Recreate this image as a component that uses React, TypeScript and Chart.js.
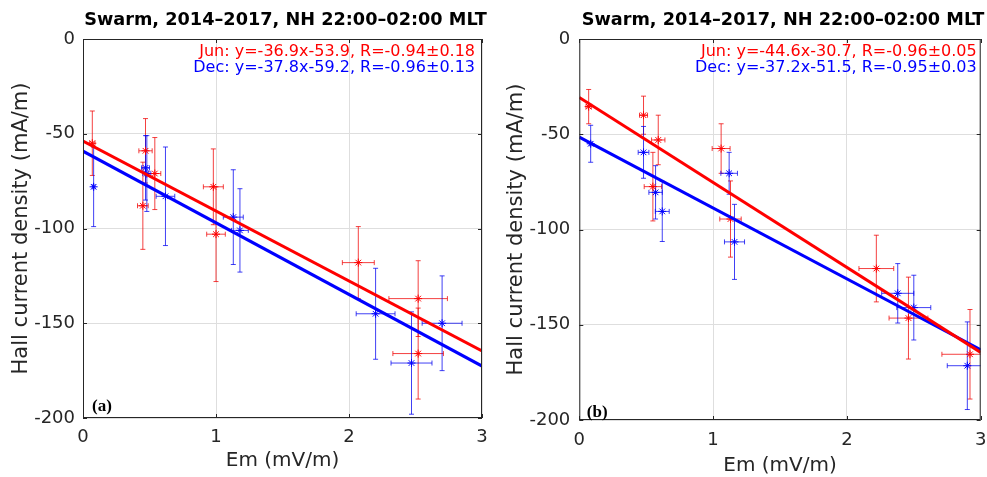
import React, { useEffect, useRef } from "react";
import { Chart, registerables } from "chart.js";

Chart.register(...registerables);

const FONT = "'DejaVu Sans', 'Noto Sans', sans-serif";
const TITLE = "Swarm, 2014–2017, NH 22:00–02:00 MLT";
const X_LABEL = "Em (mV/m)";
const Y_LABEL = "Hall current density (mA/m)";
const X_TICKS = [0, 1, 2, 3];
const Y_TICKS = [0, -50, -100, -150, -200];

// ---------- Panel (a) ----------
const junAx = [0.07, 0.47, 0.45, 0.54, 0.98, 1.0, 2.07, 2.52, 2.52];
const junAy = [-55, -59, -88, -71, -78, -103, -118, -137, -166];
const junAxErr = [0.02, 0.05, 0.04, 0.045, 0.075, 0.07, 0.12, 0.22, 0.19];
const junAyErr = [17, 17, 23, 19, 20, 25, 19, 20, 24];

const decAx = [0.08, 0.47, 0.48, 0.62, 1.13, 1.18, 2.2, 2.7, 2.47];
const decAy = [-78, -68, -71, -83, -94, -101, -145, -150, -171];
const decAxErr = [0.01, 0.03, 0.03, 0.07, 0.075, 0.063, 0.146, 0.15, 0.154];
const decAyErr = [21, 17, 20, 26, 25, 22, 24, 25, 27];

// ---------- Panel (b) ----------
const junBx = [0.07, 0.48, 0.59, 1.06, 0.55, 1.13, 2.22, 2.46, 2.92];
const junBy = [-35.5, -40, -53, -57.5, -77.5, -94.5, -120.5, -146.5, -165.5];
const junBxErr = [0.02, 0.03, 0.05, 0.067, 0.065, 0.08, 0.13, 0.145, 0.21];
const junByErr = [9, 10, 13, 13, 18, 20, 17.5, 21.5, 23.5];

const decBx = [0.085, 0.48, 0.57, 0.62, 1.12, 1.16, 2.38, 2.5, 2.9];
const decBy = [-55, -59.5, -80.5, -90.5, -70.5, -106.5, -133.5, -141, -171.5];
const decBxErr = [0.01, 0.04, 0.05, 0.052, 0.062, 0.075, 0.12, 0.127, 0.15];
const decByErr = [9.7, 13.6, 14, 15.8, 11, 19.7, 15.6, 17, 23];

// ---------- Fit lines (endpoints at x = 0 and x = 3) ----------
const fitX = [0, 3];
const junAFit = [-53.9, -164.6];
const decAFit = [-59.2, -172.6];
const junBFit = [-30.7, -164.5];
const decBFit = [-51.5, -163.1];

const junAText = "Jun: y=-36.9x-53.9, R=-0.94±0.18";
const decAText = "Dec: y=-37.8x-59.2, R=-0.96±0.13";
const junBText = "Jun: y=-44.6x-30.7, R=-0.96±0.05";
const decBText = "Dec: y=-37.2x-51.5, R=-0.95±0.03";

const RED = "#ff0000";
const BLUE = "#0000ff";
const RED_ERR = "rgba(240,0,0,0.75)";
const BLUE_ERR = "rgba(0,0,240,0.75)";
const AXIS_COLOR = "#262626";

type PanelDef = {
  tag: string;
  canvasLeft: number;
  canvasWidth: number;
  yAxisWidth: number;
  xAxisHeight: number;
  rightPad: number;
  yTitlePad: number;
  xTitlePad: number;
  xTickPad: number;
  yTickPad: number;
  textRight: number;
  tagDx: number;
  tagDy: number;
  jun: { x: number[]; y: number[]; xe: number[]; ye: number[] };
  dec: { x: number[]; y: number[]; xe: number[]; ye: number[] };
  junFit: number[];
  decFit: number[];
  junText: string;
  decText: string;
};

const panels: PanelDef[] = [
  {
    tag: "(a)",
    canvasLeft: 0,
    canvasWidth: 493,
    yAxisWidth: 83,
    xAxisHeight: 59,
    rightPad: 11,
    yTitlePad: 8.5,
    xTitlePad: 4,
    xTickPad: 9,
    yTickPad: 8,
    textRight: 7,
    tagDx: 9,
    tagDy: 11,
    jun: { x: junAx, y: junAy, xe: junAxErr, ye: junAyErr },
    dec: { x: decAx, y: decAy, xe: decAxErr, ye: decAyErr },
    junFit: junAFit,
    decFit: decAFit,
    junText: junAText,
    decText: decAText,
  },
  {
    tag: "(b)",
    canvasLeft: 493,
    canvasWidth: 494,
    yAxisWidth: 86.3,
    xAxisHeight: 57,
    rightPad: 6.3,
    yTitlePad: 11.4,
    xTitlePad: -1,
    xTickPad: 10,
    yTickPad: 9,
    textRight: 4,
    tagDx: 7.5,
    tagDy: 7,
    jun: { x: junBx, y: junBy, xe: junBxErr, ye: junByErr },
    dec: { x: decBx, y: decBy, xe: decBxErr, ye: decByErr },
    junFit: junBFit,
    decFit: decBFit,
    junText: junBText,
    decText: decBText,
  },
];

function toPoints(xs: number[], ys: number[]) {
  return xs.map((x, i) => ({ x, y: ys[i] }));
}

function makePlugin(p: PanelDef) {
  return {
    id: "panelDecor" + p.tag,
    beforeDatasetsDraw(chart: any) {
      const { ctx, chartArea } = chart;
      const xs = chart.scales.x;
      const ys = chart.scales.y;
      ctx.save();
      ctx.beginPath();
      ctx.rect(chartArea.left, chartArea.top, chartArea.right - chartArea.left, chartArea.bottom - chartArea.top);
      ctx.clip();
      chart.data.datasets.forEach((ds: any) => {
        if (!ds.errX) return;
        ctx.strokeStyle = ds.errColor;
        ctx.lineWidth = 1;
        ds.data.forEach((pt: any, i: number) => {
          const px = xs.getPixelForValue(pt.x);
          const py = ys.getPixelForValue(pt.y);
          const x1 = xs.getPixelForValue(pt.x - ds.errX[i]);
          const x2 = xs.getPixelForValue(pt.x + ds.errX[i]);
          const y1 = ys.getPixelForValue(pt.y - ds.errY[i]);
          const y2 = ys.getPixelForValue(pt.y + ds.errY[i]);
          const c = 2.5;
          ctx.beginPath();
          ctx.moveTo(px, y1);
          ctx.lineTo(px, y2);
          ctx.moveTo(px - c, y1);
          ctx.lineTo(px + c, y1);
          ctx.moveTo(px - c, y2);
          ctx.lineTo(px + c, y2);
          ctx.moveTo(x1, py);
          ctx.lineTo(x2, py);
          ctx.moveTo(x1, py - c);
          ctx.lineTo(x1, py + c);
          ctx.moveTo(x2, py - c);
          ctx.lineTo(x2, py + c);
          ctx.stroke();
        });
      });
      ctx.restore();
    },
    afterDraw(chart: any) {
      const { ctx, chartArea } = chart;
      const xs = chart.scales.x;
      const ys = chart.scales.y;
      const { left, right, top, bottom } = chartArea;
      ctx.save();
      // box
      ctx.strokeStyle = AXIS_COLOR;
      ctx.lineWidth = 1;
      ctx.strokeRect(left + 0.5, top + 0.5, right - left - 1, bottom - top - 1);
      // inward tick marks
      const tl = 4;
      ctx.beginPath();
      X_TICKS.forEach((v) => {
        const px = Math.round(xs.getPixelForValue(v)) + 0.5;
        ctx.moveTo(px, bottom);
        ctx.lineTo(px, bottom - tl);
        ctx.moveTo(px, top);
        ctx.lineTo(px, top + tl);
      });
      Y_TICKS.forEach((v) => {
        const py = Math.round(ys.getPixelForValue(v)) + 0.5;
        ctx.moveTo(left, py);
        ctx.lineTo(left + tl, py);
        ctx.moveTo(right, py);
        ctx.lineTo(right - tl, py);
      });
      ctx.stroke();
      // title
      ctx.font = `bold 17.7px ${FONT}`;
      ctx.textAlign = "center";
      ctx.textBaseline = "middle";
      ctx.fillStyle = "#000";
      ctx.fillText(TITLE, (left + right) / 2 + 3, top - 19);
      // annotations
      ctx.font = `16px ${FONT}`;
      ctx.textAlign = "right";
      ctx.textBaseline = "middle";
      ctx.fillStyle = RED;
      ctx.fillText(p.junText, right - p.textRight, top + 13);
      ctx.fillStyle = BLUE;
      ctx.fillText(p.decText, right - p.textRight, top + 29);
      // panel tag
      ctx.font = `bold 17px 'Liberation Serif', 'DejaVu Serif', serif`;
      ctx.textAlign = "left";
      ctx.fillStyle = "#000";
      ctx.fillText(p.tag, left + p.tagDx, bottom - p.tagDy);
      ctx.restore();
    },
  };
}

function makeConfig(p: PanelDef): any {
  return {
    type: "scatter",
    data: {
      datasets: [
        {
          label: "Jun fit",
          data: toPoints(fitX, p.junFit),
          showLine: true,
          borderColor: RED,
          borderWidth: 3,
          pointRadius: 0,
          fill: false,
        },
        {
          label: "Dec fit",
          data: toPoints(fitX, p.decFit),
          showLine: true,
          borderColor: BLUE,
          borderWidth: 3,
          pointRadius: 0,
          fill: false,
        },
        {
          label: "Jun",
          data: toPoints(p.jun.x, p.jun.y),
          errX: p.jun.xe,
          errY: p.jun.ye,
          errColor: RED_ERR,
          pointStyle: "star",
          pointRadius: 4,
          borderColor: RED,
          backgroundColor: RED,
          borderWidth: 1,
        },
        {
          label: "Dec",
          data: toPoints(p.dec.x, p.dec.y),
          errX: p.dec.xe,
          errY: p.dec.ye,
          errColor: BLUE_ERR,
          pointStyle: "star",
          pointRadius: 4,
          borderColor: BLUE,
          backgroundColor: BLUE,
          borderWidth: 1,
        },
      ],
    },
    options: {
      responsive: false,
      animation: false,
      events: [],
      layout: { padding: { left: 0, right: p.rightPad, top: 39, bottom: 0 } },
      plugins: {
        legend: { display: false },
        tooltip: { enabled: false },
        title: { display: false },
      },
      scales: {
        x: {
          type: "linear",
          min: 0,
          max: 3,
          afterBuildTicks: (s: any) => {
            s.ticks = X_TICKS.map((v) => ({ value: v }));
          },
          ticks: {
            color: AXIS_COLOR,
            font: { family: FONT, size: 18 },
            padding: p.xTickPad,
            maxRotation: 0,
            autoSkip: false,
          },
          grid: { color: "#dedede", lineWidth: 1, drawTicks: false },
          border: { display: false },
          title: {
            display: true,
            text: X_LABEL,
            color: AXIS_COLOR,
            font: { family: FONT, size: 20, lineHeight: 1.2 },
            padding: { top: 0, bottom: p.xTitlePad },
          },
          afterFit: (s: any) => {
            s.height = p.xAxisHeight;
            s.paddingLeft = 0;
            s.paddingRight = 0;
          },
        },
        y: {
          type: "linear",
          min: -200,
          max: 0,
          afterBuildTicks: (s: any) => {
            s.ticks = Y_TICKS.map((v) => ({ value: v }));
          },
          ticks: {
            color: AXIS_COLOR,
            font: { family: FONT, size: 18 },
            padding: p.yTickPad,
            autoSkip: false,
          },
          grid: { color: "#dedede", lineWidth: 1, drawTicks: false },
          border: { display: false },
          title: {
            display: true,
            text: Y_LABEL,
            color: AXIS_COLOR,
            font: { family: FONT, size: 21, lineHeight: 1.2 },
            padding: { top: p.yTitlePad, bottom: 0 },
          },
          afterFit: (s: any) => {
            s.width = p.yAxisWidth;
            s.paddingTop = 0;
            s.paddingBottom = 0;
          },
        },
      },
    },
    plugins: [makePlugin(p)],
  };
}

function PanelChart({ p }: { p: PanelDef }) {
  const ref = useRef<HTMLCanvasElement | null>(null);
  useEffect(() => {
    if (!ref.current) return;
    const chart = new Chart(ref.current, makeConfig(p));
    return () => chart.destroy();
  }, [p]);
  return (
    <div style={{ position: "absolute", left: p.canvasLeft, top: 0, width: p.canvasWidth, height: 477 }}>
      <canvas ref={ref} width={p.canvasWidth} height={477} style={{ width: p.canvasWidth, height: 477, display: "block" }} />
    </div>
  );
}

export default function App() {
  return (
    <div style={{ position: "absolute", left: 0, top: 0, width: 987, height: 477, background: "#fff" }}>
      {panels.map((p) => (
        <PanelChart key={p.tag} p={p} />
      ))}
    </div>
  );
}
